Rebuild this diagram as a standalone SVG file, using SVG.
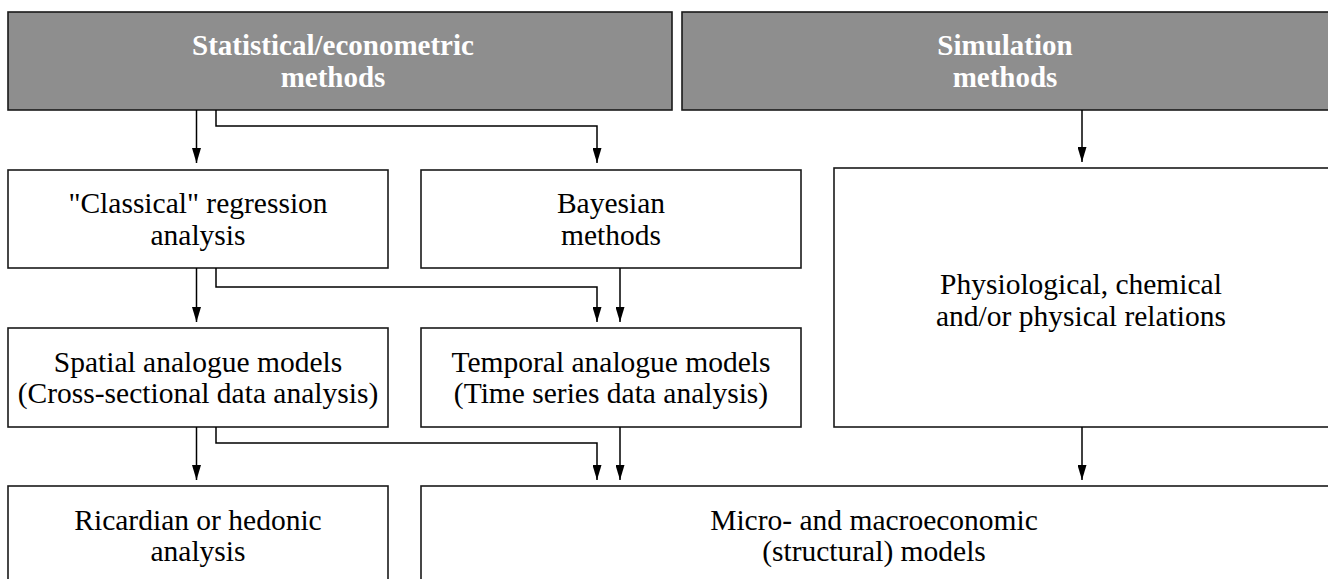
<svg xmlns="http://www.w3.org/2000/svg" width="1328" height="579" viewBox="0 0 1328 579">
<style>
.box{fill:#ffffff;stroke:#1a1a1a;stroke-width:1.6}
.hdr{fill:#8e8e8e;stroke:#1a1a1a;stroke-width:1.6}
.t{font-family:"Liberation Serif","Times New Roman",serif;font-size:29.5px;fill:#000;text-anchor:middle}
.th{font-family:"Liberation Serif","Times New Roman",serif;font-size:29px;font-weight:bold;fill:#ffffff;text-anchor:middle}
.c{fill:none;stroke:#000;stroke-width:1.5;marker-end:url(#ah)}
</style>
<defs>
<marker id="ah" viewBox="0 0 15 9" refX="15" refY="4.5" markerWidth="15" markerHeight="9" markerUnits="userSpaceOnUse" orient="auto">
<path d="M0,0 L15,4.5 L0,9 z" fill="#000"/>
</marker>
</defs>
<rect width="1328" height="579" fill="#ffffff"/>
<g id="stat">
<rect class="hdr" x="8" y="12" width="664" height="98"/>
<text class="th" x="333" y="55">Statistical/econometric</text>
<text class="th" x="333" y="87">methods</text>
</g>
<g id="sim">
<rect class="hdr" x="682" y="12" width="650" height="98"/>
<text class="th" x="1005" y="55">Simulation</text>
<text class="th" x="1005" y="87">methods</text>
</g>
<g id="classical">
<rect class="box" x="8" y="170" width="380" height="98"/>
<text class="t" x="198" y="213">"Classical" regression</text>
<text class="t" x="198" y="245">analysis</text>
</g>
<g id="bayesian">
<rect class="box" x="421" y="170" width="380" height="98"/>
<text class="t" x="611" y="213">Bayesian</text>
<text class="t" x="611" y="245">methods</text>
</g>
<g id="physio">
<rect class="box" x="834" y="168" width="498" height="259"/>
<text class="t" x="1081" y="294">Physiological, chemical</text>
<text class="t" x="1081" y="326">and/or physical relations</text>
</g>
<g id="spatial">
<rect class="box" x="8" y="328" width="380" height="99"/>
<text class="t" x="198" y="372">Spatial analogue models</text>
<text class="t" x="198" y="403">(Cross-sectional data analysis)</text>
</g>
<g id="temporal">
<rect class="box" x="421" y="328" width="380" height="99"/>
<text class="t" x="611" y="372">Temporal analogue models</text>
<text class="t" x="611" y="403">(Time series data analysis)</text>
</g>
<g id="ricardian">
<rect class="box" x="8" y="486" width="380" height="110"/>
<text class="t" x="198" y="530">Ricardian or hedonic</text>
<text class="t" x="198" y="561">analysis</text>
</g>
<g id="micro">
<rect class="box" x="421" y="486" width="911" height="110"/>
<text class="t" x="874" y="530">Micro- and macroeconomic</text>
<text class="t" x="874" y="561">(structural) models</text>
</g>
<g id="connectors">
<path class="c" d="M196.5,110 V163"/>
<path class="c" d="M216,110 V126 H597 V163"/>
<path class="c" d="M1082,110 V162"/>
<path class="c" d="M196.5,268 V322"/>
<path class="c" d="M216,268 V287 H597 V322"/>
<path class="c" d="M620,268 V322"/>
<path class="c" d="M196.5,427 V480"/>
<path class="c" d="M216,427 V443 H597 V480"/>
<path class="c" d="M620,427 V480"/>
<path class="c" d="M1082,427 V480"/>
</g>
</svg>
